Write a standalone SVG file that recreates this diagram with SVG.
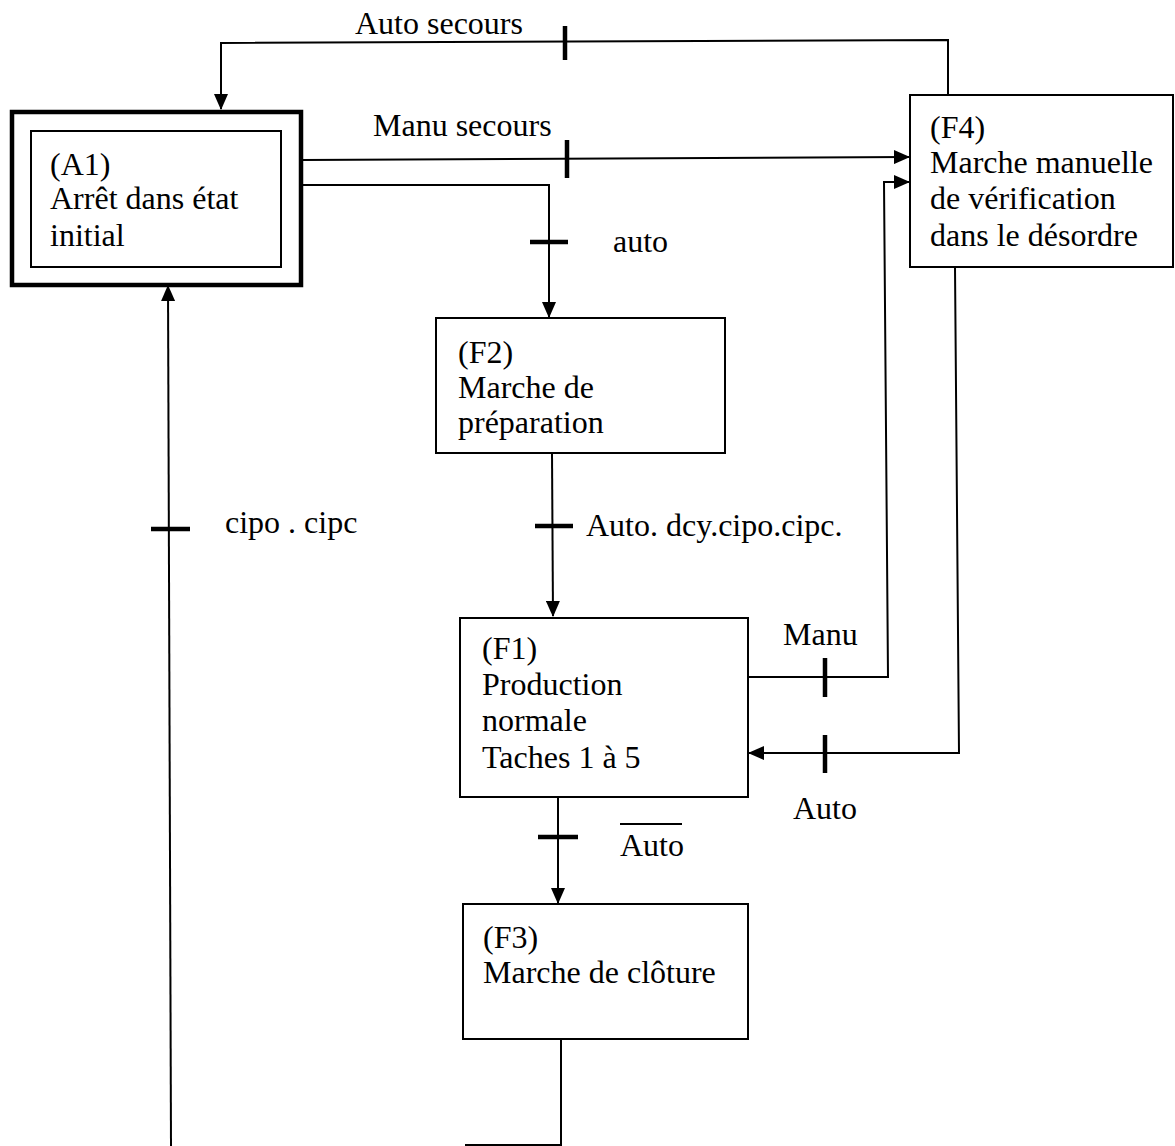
<svg xmlns="http://www.w3.org/2000/svg" width="1175" height="1146" viewBox="0 0 1175 1146">
<style>
text{font-family:"Liberation Serif","Times New Roman",serif;font-size:32px;fill:#000}
.box{fill:#fff;stroke:#000;stroke-width:2}
.ln{fill:none;stroke:#000;stroke-width:2}
.tk{stroke:#000;stroke-width:4.5}
</style>
<defs>
<marker id="ah" markerWidth="16" markerHeight="14" refX="15" refY="7" orient="auto" markerUnits="userSpaceOnUse">
<path d="M0,0 L16,7 L0,14 Z" fill="#000"/>
</marker>
</defs>
<rect width="1175" height="1146" fill="#fff"/>
<g id="connectors">
<polyline class="ln" points="948,95 948,40 221,43 221,109" marker-end="url(#ah)"/>
<line class="tk" x1="565" y1="26" x2="565" y2="60"/>
<polyline class="ln" points="302,160 909,157" marker-end="url(#ah)"/>
<line class="tk" x1="567" y1="140" x2="567" y2="178"/>
<polyline class="ln" points="302,185 549,185 549,317" marker-end="url(#ah)"/>
<line class="tk" x1="530" y1="242" x2="568" y2="242"/>
<polyline class="ln" points="552,453 553,616" marker-end="url(#ah)"/>
<line class="tk" x1="535" y1="526" x2="573" y2="526"/>
<polyline class="ln" points="748,677 888,677 884,182 909,182" marker-end="url(#ah)"/>
<line class="tk" x1="825" y1="658" x2="825" y2="697"/>
<polyline class="ln" points="955,267 959,753 749,753" marker-end="url(#ah)"/>
<line class="tk" x1="825" y1="735" x2="825" y2="773"/>
<polyline class="ln" points="558,797 558,903" marker-end="url(#ah)"/>
<line class="tk" x1="538" y1="837" x2="578" y2="837"/>
<polyline class="ln" points="561,1039 561,1145 465,1145"/>
<polyline class="ln" points="171,1146 168,286" marker-end="url(#ah)"/>
<line class="tk" x1="151" y1="529" x2="190" y2="529"/>
<text x="355" y="34">Auto secours</text>
<text x="373" y="136">Manu secours</text>
<text x="613" y="252">auto</text>
<text x="586" y="536">Auto. dcy.cipo.cipc.</text>
<text x="225" y="533">cipo . cipc</text>
<text x="783" y="645">Manu</text>
<text x="793" y="819">Auto</text>
<text x="620" y="856">Auto</text>
<line x1="620" y1="824" x2="682" y2="824" stroke="#000" stroke-width="2"/>
</g>
<g id="A1">
<rect x="12" y="112" width="289" height="173" fill="#fff" stroke="#000" stroke-width="4.5"/>
<rect class="box" x="31" y="131" width="250" height="136"/>
<text x="50" y="175">(A1)</text>
<text x="50" y="209">Arrêt dans état</text>
<text x="50" y="246">initial</text>
</g>
<g id="F4">
<rect class="box" x="910" y="95" width="263" height="172"/>
<text x="930" y="138">(F4)</text>
<text x="930" y="173">Marche manuelle</text>
<text x="930" y="209">de vérification</text>
<text x="930" y="246">dans le désordre</text>
</g>
<g id="F2">
<rect class="box" x="436" y="318" width="289" height="135"/>
<text x="458" y="363">(F2)</text>
<text x="458" y="398">Marche de</text>
<text x="458" y="433">préparation</text>
</g>
<g id="F1">
<rect class="box" x="460" y="618" width="288" height="179"/>
<text x="482" y="659">(F1)</text>
<text x="482" y="695">Production</text>
<text x="482" y="731">normale</text>
<text x="482" y="768">Taches 1 à 5</text>
</g>
<g id="F3">
<rect class="box" x="463" y="904" width="285" height="135"/>
<text x="483" y="948">(F3)</text>
<text x="483" y="983">Marche de clôture</text>
</g>
</svg>
